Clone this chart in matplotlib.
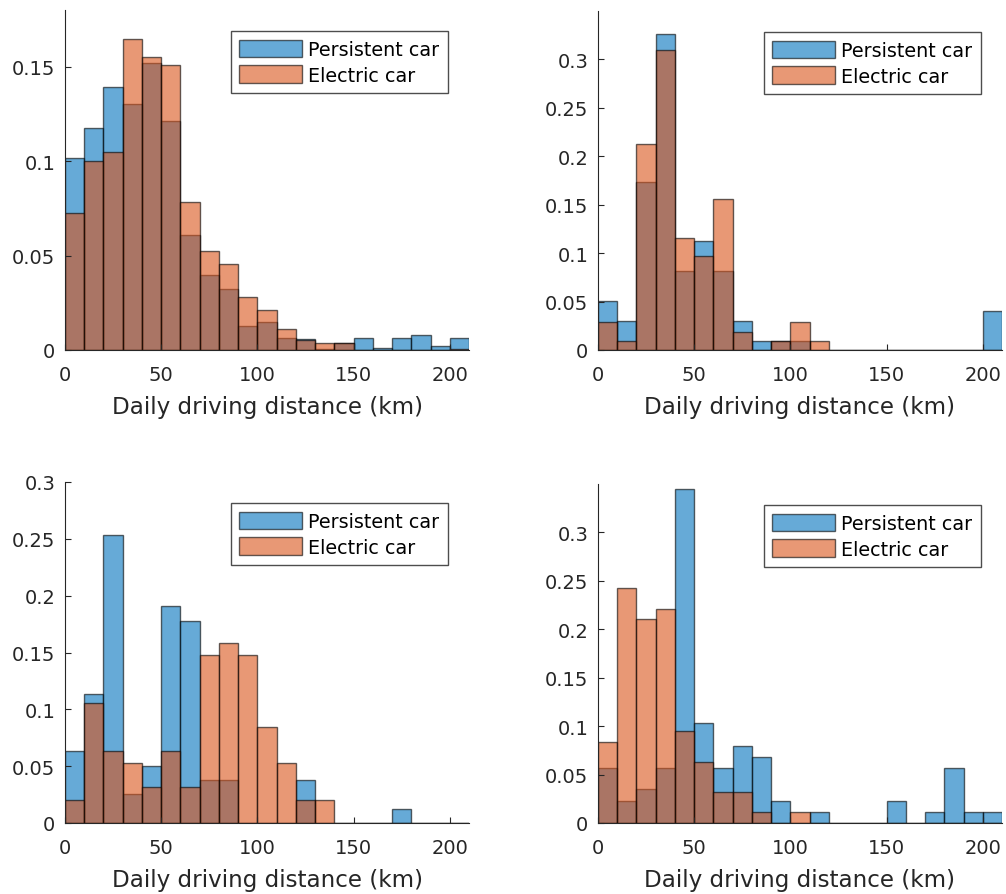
import matplotlib
matplotlib.use("Agg")
import matplotlib.pyplot as plt
import numpy as np
from matplotlib.ticker import FuncFormatter
from matplotlib.patches import Patch

# bin edges 0..210 km, 10 km wide
edges = np.arange(0, 220, 10)

# top left
p1 = [0.1016, 0.1175, 0.1394, 0.130, 0.152, 0.1215, 0.0607, 0.0399, 0.0322, 0.0128, 0.0146,
      0.0062, 0.006, 0.0005, 0.0037, 0.0062, 0.001, 0.0062, 0.0079, 0.0023, 0.0062]
e1 = [0.0725, 0.100, 0.105, 0.1644, 0.155, 0.151, 0.0784, 0.0524, 0.0457, 0.0278, 0.0213,
      0.0111, 0.0055, 0.0037, 0.0037, 0.0, 0.0, 0.0, 0.0, 0.0, 0.0005]

# top right
p2 = [0.0506, 0.030, 0.1736, 0.326, 0.0813, 0.1127, 0.0813, 0.030, 0.0096, 0.0096, 0.0096,
      0.0, 0.0, 0.0, 0.0, 0.0, 0.0, 0.0, 0.0, 0.0, 0.0403]
e2 = [0.029, 0.0096, 0.213, 0.310, 0.116, 0.0967, 0.1554, 0.019, 0.0, 0.0096, 0.029,
      0.0096, 0.0, 0.0, 0.0, 0.0, 0.0, 0.0, 0.0, 0.0, 0.0]

# bottom left
p3 = [0.0631, 0.1136, 0.2536, 0.0255, 0.0499, 0.1908, 0.1776, 0.0382, 0.0382, 0.0, 0.0,
      0.0, 0.0382, 0.0, 0.0, 0.0, 0.0, 0.0123, 0.0, 0.0, 0.0]
e3 = [0.0205, 0.1054, 0.0631, 0.0528, 0.0314, 0.0631, 0.0314, 0.1479, 0.1582, 0.1479, 0.0848,
      0.0528, 0.0205, 0.0205, 0.0, 0.0, 0.0, 0.0, 0.0, 0.0, 0.0]

# bottom right
p4 = [0.0571, 0.0229, 0.0349, 0.0571, 0.3445, 0.1033, 0.0571, 0.080, 0.0684, 0.0229, 0.0,
      0.011, 0.0, 0.0, 0.0, 0.0229, 0.0, 0.011, 0.0571, 0.011, 0.011]
e4 = [0.0835, 0.2426, 0.2104, 0.2207, 0.0948, 0.0633, 0.0315, 0.0315, 0.011, 0.0, 0.011,
      0.0, 0.0, 0.0, 0.0, 0.0, 0.0, 0.0, 0.0, 0.0, 0.0]

ylims = [0.18, 0.35, 0.3, 0.35]
yticks = [[0, 0.05, 0.1, 0.15],
          [0, 0.05, 0.1, 0.15, 0.2, 0.25, 0.3],
          [0, 0.05, 0.1, 0.15, 0.2, 0.25, 0.3],
          [0, 0.05, 0.1, 0.15, 0.2, 0.25, 0.3]]
labels = ["Persistent car", "Electric car"]

blue = (0.0, 0.447, 0.741)
orange = (0.85, 0.325, 0.098)
txt = "0.15"

W, H = 1006, 895
fig = plt.figure(figsize=(W / 100, H / 100), dpi=100)

# axes boxes in pixels: left, top, width, bottom
boxes = [(65, 11, 404, 351), (598, 12, 404, 351), (65, 483, 404, 824), (598, 485, 404, 824)]
data = [(p1, e1), (p2, e2), (p3, e3), (p4, e4)]

for k in range(4):
    l, t, w, b = boxes[k]
    ax = fig.add_axes([l / W, (H - b) / H, w / W, (b - t) / H])
    pers, elec = data[k]
    ax.bar(edges[:-1], pers, width=10, align="edge", color=blue, alpha=0.6,
           edgecolor="black", linewidth=1.0)
    ax.bar(edges[:-1], elec, width=10, align="edge", color=orange, alpha=0.6,
           edgecolor="black", linewidth=1.0)
    ax.set_xlim(0, 210)
    ax.set_ylim(0, ylims[k])
    ax.set_xticks([0, 50, 100, 150, 200])
    ax.set_yticks(yticks[k])
    ax.yaxis.set_major_formatter(FuncFormatter(lambda v, p: "%g" % v))
    for s in ["top", "right"]:
        ax.spines[s].set_visible(False)
    for s in ["left", "bottom"]:
        ax.spines[s].set_color(txt)
        ax.spines[s].set_linewidth(0.8)
    ax.tick_params(direction="in", length=4, width=0.8, colors=txt, labelsize=14)
    ax.tick_params(axis="x", pad=11)
    ax.tick_params(axis="y", pad=7)
    ax.set_xlabel("Daily driving distance (km)", fontsize=16.6, color=txt, labelpad=7.5)
    handles = [Patch(facecolor=blue, alpha=0.6, edgecolor="black", linewidth=1.0),
               Patch(facecolor=orange, alpha=0.6, edgecolor="black", linewidth=1.0)]
    leg = ax.legend(handles, labels, loc="upper right", fontsize=13.8, fancybox=False,
                    framealpha=1, edgecolor="0.3", handlelength=3.3, handleheight=1.05,
                    labelspacing=0.32, handletextpad=0.3, borderpad=0.45, borderaxespad=1.1)
    leg.get_frame().set_linewidth(1.0)

fig.savefig("out.png", dpi=100)
